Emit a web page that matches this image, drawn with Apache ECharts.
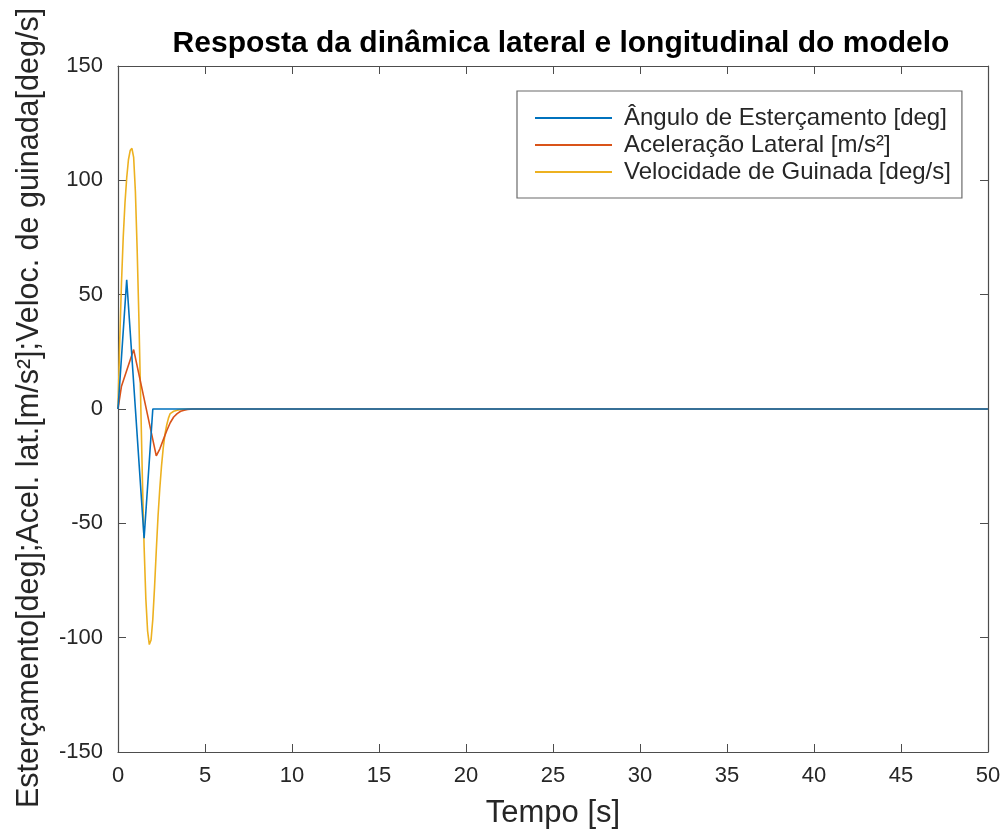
<!DOCTYPE html>
<html>
<head>
<meta charset="utf-8">
<title>Resposta da dinâmica lateral e longitudinal do modelo</title>
<script src="https://cdn.jsdelivr.net/npm/echarts@6/dist/echarts.min.js"></script>
<style>
  html, body { margin: 0; padding: 0; background: #fff; }
  #chart { width: 1006px; height: 837px; }
</style>
</head>
<body>
<div id="chart"></div>
<script>
// Tick values for both axes
const xTicks = [0, 5, 10, 15, 20, 25, 30, 35, 40, 45, 50];
const yTicks = [-150, -100, -50, 0, 50, 100, 150];

// Steering angle [deg]
const steerTime = [0, 0.5, 1.0, 1.5, 2.0, 50];
const steerAngle = [0, 56.5, 0, -56.5, 0, 0];

// Lateral acceleration [m/s²]
const accelTime = [0, 0.2, 0.9, 2.2, 2.4, 2.6, 2.8, 3.0, 3.2, 3.4, 3.6, 3.8, 4.0, 4.3, 50];
const accelLat = [0, 10, 26, -20.5, -17.5, -13.5, -9.5, -6, -3.5, -2, -1, -0.5, -0.2, 0, 0];

// Yaw rate [deg/s]
const yawTime = [0, 0.1, 0.2, 0.3, 0.4, 0.5, 0.6, 0.7, 0.8, 0.9, 1.0, 1.1, 1.2, 1.3, 1.4,
  1.5, 1.6, 1.7, 1.8, 1.9, 2.0, 2.1, 2.2, 2.3, 2.4, 2.5, 2.6, 2.7, 2.8, 2.9, 3.0,
  3.2, 3.4, 3.6, 3.8, 4.0, 4.5, 50];
const yawRate = [0, 30, 55, 75, 90, 101, 109, 113, 114, 110, 95, 70, 40, 5, -30,
  -60, -83, -97, -103, -101, -92, -78, -62, -47, -35, -25, -17, -11, -7, -4, -2,
  -1, -0.5, -0.2, -0.1, 0, 0, 0];

const seriesNames = [
  'Ângulo de Esterçamento [deg]',
  'Aceleração Lateral [m/s²]',
  'Velocidade de Guinada [deg/s]'
];
const seriesColors = ['#0072BD', '#D95319', '#EDB120'];

const pairs = (t, v) => t.map((x, i) => [x, v[i]]);

const FONT = '"Liberation Sans", Arial, Helvetica, sans-serif';
const AXIS_COLOR = '#4d4d4d';
const TEXT_COLOR = '#262626';

const chart = echarts.init(document.getElementById('chart'), null, { renderer: 'canvas' });

const xBase = {
  type: 'value', min: xTicks[0], max: xTicks[xTicks.length - 1], interval: 5,
  splitLine: { show: false },
  axisLine: { show: true, onZero: false, lineStyle: { color: AXIS_COLOR, width: 1.2 } },
  axisTick: { show: true, inside: true, length: 8, lineStyle: { color: AXIS_COLOR, width: 1 } }
};
const yBase = {
  type: 'value', min: yTicks[0], max: yTicks[yTicks.length - 1], interval: 50,
  splitLine: { show: false },
  axisLine: { show: true, onZero: false, lineStyle: { color: AXIS_COLOR, width: 1.2 } },
  axisTick: { show: true, inside: true, length: 8, lineStyle: { color: AXIS_COLOR, width: 1 } }
};

chart.setOption({
  animation: false,
  backgroundColor: '#ffffff',
  title: {
    text: 'Resposta da dinâmica lateral e longitudinal do modelo',
    left: 556, top: 24, textAlign: 'center',
    textStyle: { fontFamily: FONT, fontWeight: 'bold', fontSize: 30, color: '#000' }
  },
  grid: { left: 118, right: 18, top: 66, bottom: 85, containLabel: false },
  legend: {
    orient: 'vertical', left: 517, top: 91,
    data: seriesNames,
    icon: 'rect', itemWidth: 77, itemHeight: 2, itemGap: 3,
    padding: [15, 11, 14, 18],
    backgroundColor: '#fff', borderColor: '#6b6b6b', borderWidth: 1.2,
    textStyle: { fontFamily: FONT, fontSize: 24, color: TEXT_COLOR, padding: [0, 0, 0, 7] }
  },
  xAxis: [
    Object.assign({}, xBase, {
      position: 'bottom',
      name: 'Tempo [s]', nameLocation: 'middle', nameGap: 46,
      nameTextStyle: { fontFamily: FONT, fontSize: 31, color: TEXT_COLOR },
      axisLabel: { fontFamily: FONT, fontSize: 22, color: TEXT_COLOR, margin: 13 }
    }),
    Object.assign({}, xBase, { position: 'top', axisLabel: { show: false } })
  ],
  yAxis: [
    Object.assign({}, yBase, {
      position: 'left',
      axisLabel: { fontFamily: FONT, fontSize: 22, color: TEXT_COLOR, margin: 15 }
    }),
    Object.assign({}, yBase, { position: 'right', axisLabel: { show: false } })
  ],
  graphic: [{
    type: 'text',
    rotation: Math.PI / 2,
    x: 30, y: 408,
    style: {
      text: 'Esterçamento[deg];Acel. lat.[m/s²];Veloc. de guinada[deg/s]',
      fontFamily: FONT, fontSize: 30.5, fill: TEXT_COLOR,
      align: 'center', verticalAlign: 'middle'
    }
  }],
  series: [
    { name: seriesNames[0], data: pairs(steerTime, steerAngle) },
    { name: seriesNames[1], data: pairs(accelTime, accelLat) },
    { name: seriesNames[2], data: pairs(yawTime, yawRate) }
  ].map((s, i) => Object.assign(s, {
    type: 'line', xAxisIndex: 0, yAxisIndex: 0,
    showSymbol: false, symbol: 'none',
    lineStyle: { color: seriesColors[i], width: 1.6 },
    itemStyle: { color: seriesColors[i] },
    z: 3 - i
  }))
});
</script>
</body>
</html>
